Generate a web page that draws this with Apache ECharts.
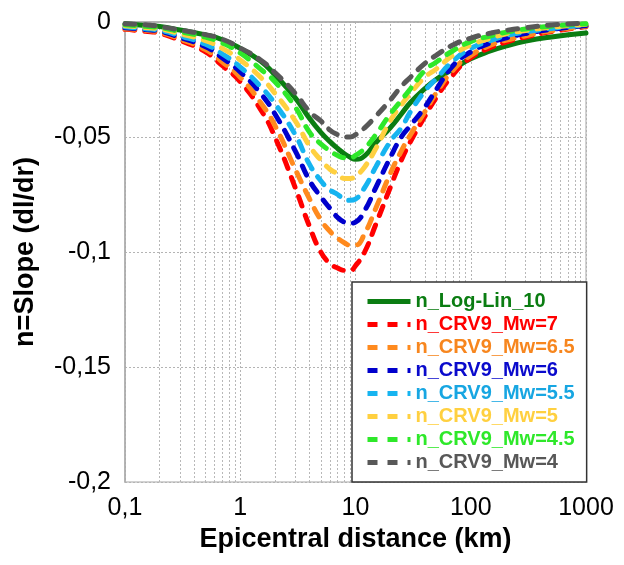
<!DOCTYPE html>
<html>
<head>
<meta charset="utf-8">
<script src="https://cdn.jsdelivr.net/npm/echarts@6/dist/echarts.min.js"></script>
<style>
html,body{margin:0;padding:0;background:#fff;}
#chart{width:624px;height:565px;}
</style>
</head>
<body>
<div id="chart"></div>
<script>
// Epicentral distance (km) sample points
const distanceKm = [0.1, 0.15, 0.2, 0.3, 0.5, 0.7, 1, 1.5, 2, 3, 4, 5, 6, 7, 8, 9, 10, 12, 15, 20, 25, 30, 40, 50, 70, 100, 150, 200, 300, 500, 1000];

// n = slope values
const nLogLin10 = [-0.0008, -0.0015, -0.002, -0.0035, -0.0056, -0.0077, -0.0115, -0.017, -0.023, -0.033, -0.042, -0.048, -0.052, -0.055, -0.0573, -0.0588, -0.0597, -0.0582, -0.0525, -0.046, -0.040, -0.035, -0.029, -0.025, -0.0205, -0.016, -0.0125, -0.0105, -0.0083, -0.0065, -0.0048];
const nMw7   = [-0.0032, -0.004, -0.0049, -0.008, -0.013, -0.019, -0.026, -0.038, -0.050, -0.072, -0.089, -0.100, -0.105, -0.107, -0.108, -0.108, -0.106, -0.100, -0.088, -0.072, -0.060, -0.052, -0.041, -0.033, -0.023, -0.0155, -0.011, -0.0088, -0.0065, -0.0042, -0.002];
const nMw65  = [-0.0029, -0.0036, -0.0045, -0.0074, -0.012, -0.0174, -0.024, -0.035, -0.045, -0.064, -0.077, -0.086, -0.091, -0.094, -0.096, -0.097, -0.097, -0.092, -0.081, -0.066, -0.056, -0.049, -0.039, -0.031, -0.021, -0.0145, -0.010, -0.008, -0.006, -0.0038, -0.0018];
const nMw6   = [-0.0025, -0.0033, -0.004, -0.0067, -0.0108, -0.0156, -0.0217, -0.031, -0.040, -0.056, -0.069, -0.076, -0.081, -0.085, -0.087, -0.0875, -0.087, -0.082, -0.072, -0.059, -0.050, -0.045, -0.037, -0.0295, -0.019, -0.013, -0.009, -0.007, -0.005, -0.0032, -0.0015];
const nMw55  = [-0.0021, -0.0029, -0.0036, -0.006, -0.0097, -0.0139, -0.0196, -0.028, -0.0355, -0.049, -0.062, -0.069, -0.073, -0.075, -0.077, -0.0775, -0.077, -0.072, -0.063, -0.052, -0.046, -0.039, -0.030, -0.0248, -0.017, -0.0115, -0.008, -0.006, -0.0043, -0.0028, -0.0012];
const nMw5   = [-0.0016, -0.0024, -0.003, -0.0051, -0.0081, -0.0115, -0.0165, -0.024, -0.031, -0.043, -0.054, -0.060, -0.064, -0.066, -0.068, -0.068, -0.067, -0.063, -0.055, -0.043, -0.036, -0.031, -0.024, -0.0205, -0.0145, -0.010, -0.007, -0.0052, -0.0037, -0.0023, -0.001];
const nMw45  = [-0.0012, -0.0019, -0.0024, -0.0042, -0.0066, -0.0091, -0.0135, -0.0205, -0.026, -0.037, -0.048, -0.053, -0.056, -0.058, -0.059, -0.059, -0.058, -0.055, -0.049, -0.040, -0.034, -0.029, -0.021, -0.0175, -0.0125, -0.0085, -0.006, -0.0045, -0.003, -0.0018, -0.0008];
const nMw4   = [-0.0008, -0.0012, -0.002, -0.0035, -0.0055, -0.0075, -0.0113, -0.0165, -0.022, -0.031, -0.039, -0.043, -0.047, -0.049, -0.050, -0.050, -0.049, -0.046, -0.041, -0.034, -0.028, -0.024, -0.018, -0.0145, -0.010, -0.007, -0.0048, -0.0037, -0.0025, -0.0013, -0.0005];

const seriesNames = ['n_Log-Lin_10', 'n_CRV9_Mw=7', 'n_CRV9_Mw=6.5', 'n_CRV9_Mw=6', 'n_CRV9_Mw=5.5', 'n_CRV9_Mw=5', 'n_CRV9_Mw=4.5', 'n_CRV9_Mw=4'];
const seriesValues = [nLogLin10, nMw7, nMw65, nMw6, nMw55, nMw5, nMw45, nMw4];
const seriesColors = ['#0b7d12', '#ff0000', '#ff8a1e', '#0000cc', '#16b4f0', '#ffd040', '#2ee82a', '#585858'];
const legendTextColors = ['#0b7d12', '#ff0000', '#f7861e', '#0a0acc', '#17a6e2', '#ffd040', '#2ee82a', '#585858'];

// axis ticks
const xTicks = [0.1, 1, 10, 100, 1000];
const yTicks = [0, -0.05, -0.1, -0.15, -0.2];
// minor log gridlines (2..9 per decade)
const minorGridKm = [0.2,0.3,0.4,0.5,0.6,0.7,0.8,0.9, 2,3,4,5,6,7,8,9, 20,30,40,50,60,70,80,90, 200,300,400,500,600,700,800,900];

const FONT = 'Liberation Sans, Arial, sans-serif';
const fmt = v => String(+Number(v).toPrecision(6)).replace('.', ',');

const series = seriesNames.map((name, i) => ({
  name,
  type: 'line',
  data: distanceKm.map((x, j) => [x, seriesValues[i][j]]),
  smooth: 0.5,
  showSymbol: false,
  symbol: 'none',
  z: 3 + i,
  lineStyle: i === 0
    ? { color: seriesColors[i], width: 5, type: 'solid', cap: 'round' }
    : { color: seriesColors[i], width: 5, type: [10, 10], cap: 'round' },
  itemStyle: { color: seriesColors[i] },
  emphasis: { disabled: true }
}));

series.push({
  name: 'minorGrid',
  type: 'line',
  data: [],
  silent: true,
  markLine: {
    z: 1,
    silent: true,
    symbol: ['none', 'none'],
    label: { show: false },
    lineStyle: { color: '#b8b8b8', width: 1, type: [2, 2] },
    emphasis: { disabled: true },
    data: minorGridKm.map(v => ({ xAxis: v }))
  }
});

const chart = echarts.init(document.getElementById('chart'));
chart.setOption({
  animation: false,
  backgroundColor: '#fff',
  textStyle: { fontFamily: FONT },
  grid: { left: 125, right: 38, top: 22, bottom: 83, show: true, borderColor: '#c4c4c4', borderWidth: 1.5, backgroundColor: '#fff' },
  xAxis: {
    type: 'log', logBase: 10, min: xTicks[0], max: xTicks[xTicks.length - 1],
    name: 'Epicentral distance (km)', nameLocation: 'middle', nameGap: 44,
    nameTextStyle: { fontFamily: FONT, fontSize: 27, fontWeight: 'bold', color: '#000' },
    axisLine: { show: true, lineStyle: { color: '#aaaaaa', width: 1.5 } },
    axisTick: { show: false },
    axisLabel: { fontFamily: FONT, fontSize: 25, color: '#000', margin: 14, formatter: fmt },
    splitLine: { show: true, lineStyle: { color: '#b4b4b4', width: 1, type: [2, 2] } }
  },
  yAxis: {
    type: 'value', min: yTicks[yTicks.length - 1], max: yTicks[0], interval: 0.05,
    name: 'n=Slope (dl/dr)', nameLocation: 'middle', nameGap: 86,
    nameTextStyle: { fontFamily: FONT, fontSize: 27, fontWeight: 'bold', color: '#000' },
    axisLine: { show: true, lineStyle: { color: '#aaaaaa', width: 1.5 } },
    axisTick: { show: false },
    axisLabel: { fontFamily: FONT, fontSize: 25, color: '#000', margin: 14, formatter: fmt },
    splitLine: { show: true, lineStyle: { color: '#b4b4b4', width: 1, type: [2, 2] } }
  },
  legend: {
    orient: 'vertical',
    left: 352, top: 282,
    padding: [8, 12, 8, 13],
    itemGap: 0,
    itemWidth: 43, itemHeight: 14,
    backgroundColor: '#fff',
    borderColor: '#333', borderWidth: 1.5,
    itemStyle: { color: 'rgba(0,0,0,0)', borderColor: 'rgba(0,0,0,0)', borderWidth: 0, opacity: 0 },
    lineStyle: { width: 5, cap: 'butt' },
    textStyle: { fontFamily: FONT, fontSize: 20, fontWeight: 'bold', lineHeight: 23 },
    data: seriesNames.map((n, i) => ({ name: n, textStyle: { color: legendTextColors[i] } }))
  },
  series
});
</script>
</body>
</html>
